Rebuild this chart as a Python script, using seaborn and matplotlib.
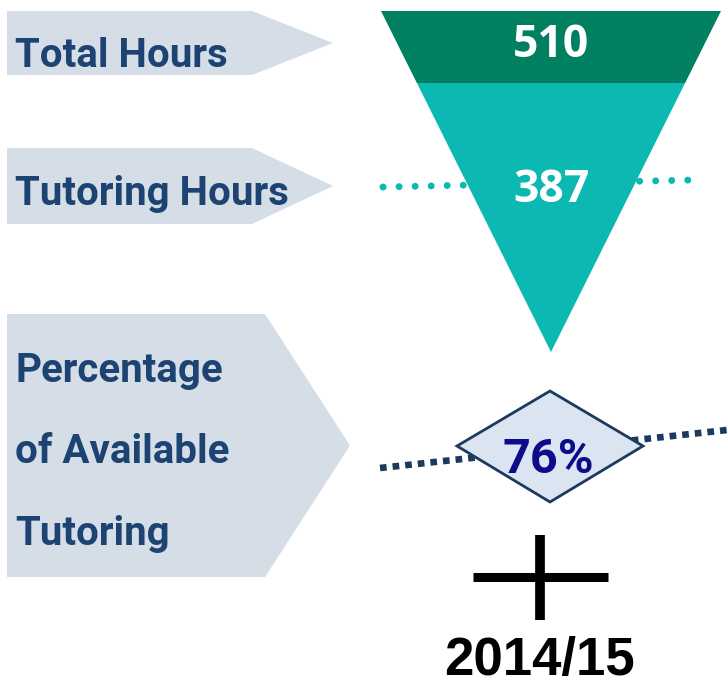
import numpy as np
import matplotlib
matplotlib.use("Agg")
import matplotlib.pyplot as plt
import seaborn as sns
from matplotlib.patches import Polygon

# datos del gráfico
etiquetas = ["Total Hours", "Tutoring Hours", "Percentage\nof Available\nTutoring"]
horas = [510, 387]
porcentaje = [76]
periodo = ["2014/15"]

# colores
col_caja = "#d5dde6"
col_texto = "#1d4373"
col_total = "#008060"
col_tutor = "#0cb8b2"
col_diamante = "#dbe5f1"
col_navy = "#1b3a5e"
col_pct = "#0c0c8a"

sns.set_theme(style="white")

fig = plt.figure(figsize=(7.27, 6.87), dpi=100)
ax = fig.add_axes([0, 0, 1, 1])
ax.set_xlim(0, 727)
ax.set_ylim(687, 0)
ax.axis("off")

# flechas de etiquetas (arriba, abajo, hombro, punta)
cajas = [(11, 75, 252, 333), (148, 224, 252, 333), (314, 577, 265, 350)]
for (y0, y1, xs, xt) in cajas:
    ax.add_patch(Polygon([(7, y0), (xs, y0), (xt, (y0 + y1) / 2), (xs, y1), (7, y1)],
                         closed=True, facecolor=col_caja, edgecolor="none", zorder=1))

base_lineas = [[67], [205], [382, 463, 545]]
for texto, bases in zip(etiquetas, base_lineas):
    for linea, yb in zip(texto.split("\n"), bases):
        ax.text(15, yb, linea, family="Roboto", fontweight="bold", fontsize=29,
                color=col_texto, va="baseline", ha="left", zorder=3)

# embudo
x_izq, x_der, y_top, y_apex = 381, 721, 11, 352
x_c = (x_izq + x_der) / 2
y_band = 83
frac = (y_band - y_top) / (y_apex - y_top)
xl_b = x_izq + (x_c - x_izq) * frac
xr_b = x_der - (x_der - x_c) * frac
ax.add_patch(Polygon([(x_izq, y_top), (x_der, y_top), (xr_b, y_band), (xl_b, y_band)],
                     closed=True, facecolor=col_total, edgecolor="none", zorder=2))
ax.add_patch(Polygon([(xl_b, y_band), (xr_b, y_band), (x_c, y_apex)],
                     closed=True, facecolor=col_tutor, edgecolor="none", zorder=2))

# línea punteada de horas de tutoría
ax.plot([383, 693], [187, 180], color=col_tutor, lw=5, linestyle=(0, (0.01, 2.3)),
        dash_capstyle="round", zorder=1)

ax.text(551, 57, str(horas[0]), family="Open Sans", fontweight="bold", fontsize=32,
        color="white", ha="center", va="baseline", zorder=3)
ax.text(551, 202, str(horas[1]), family="Open Sans", fontweight="bold", fontsize=32,
        color="white", ha="center", va="baseline", zorder=3)

# diamante del porcentaje
ax.plot([380, 727], [468, 430], color=col_navy, lw=4.8, linestyle=(0, (1.0, 0.9)),
        dash_capstyle="butt", zorder=1)
ax.add_patch(Polygon([(457, 446), (550, 391), (643, 446), (550, 502)], closed=True,
                     facecolor=col_diamante, edgecolor=col_navy, lw=2, zorder=2))
ax.text(548, 473, f"{porcentaje[0]}%", family="Roboto", fontweight="bold", fontsize=35,
        color=col_pct, ha="center", va="baseline", zorder=3)

# marca del periodo
ax.plot([540, 540], [535, 620], color="black", lw=7, solid_capstyle="butt", zorder=2)
ax.plot([473, 608], [577, 577], color="black", lw=6.5, solid_capstyle="butt", zorder=2)
ax.text(539, 675, periodo[0], family="Liberation Sans", fontweight="bold", fontsize=38,
        color="black", ha="center", va="baseline", zorder=3)

plt.savefig("out.png", dpi=100)
